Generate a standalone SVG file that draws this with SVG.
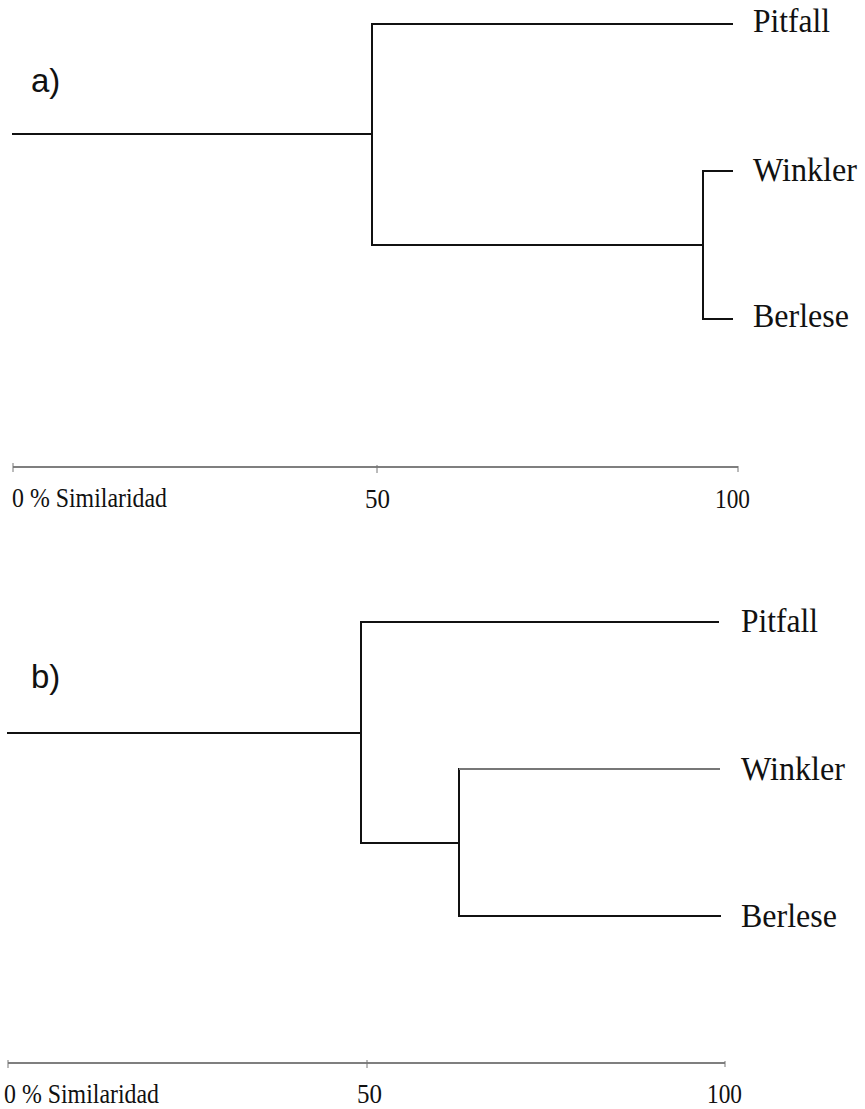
<svg xmlns="http://www.w3.org/2000/svg" width="865" height="1109" viewBox="0 0 865 1109">
  <style>
    .branch { fill: none; stroke: #111; stroke-width: 2; stroke-linecap: square; }
    .branch-light { fill: none; stroke: #777; stroke-width: 2; }
    .axis { fill: none; stroke: #555; stroke-width: 1.6; }
    .tick { fill: none; stroke: #777; stroke-width: 1; }
    .leaf { font-family: "Liberation Serif", "Times New Roman", serif; font-size: 33px; fill: #111; }
    .scale { font-family: "Liberation Serif", "Times New Roman", serif; font-size: 27px; fill: #111; }
    .panel { font-family: "Liberation Sans", Arial, sans-serif; font-size: 33px; fill: #111; }
  </style>
  <rect width="865" height="1109" fill="#fff"/>

  <!-- Dendrogram a -->
  <g id="panel-a">
    <text id="label-a" class="panel" x="31" y="92">a)</text>
    <g id="a-connectors">
      <path class="branch" d="M13 134 H372"/>
      <path class="branch" d="M372 24 V245"/>
      <path class="branch" d="M372 24 H732"/>
      <path class="branch" d="M372 245 H703"/>
      <path class="branch" d="M703 171 V319"/>
      <path class="branch" d="M703 171 H732"/>
      <path class="branch" d="M703 319 H732"/>
    </g>
    <g id="a-pitfall"><text class="leaf" x="753" y="32" textLength="77" lengthAdjust="spacingAndGlyphs">Pitfall</text></g>
    <g id="a-winkler"><text class="leaf" x="753" y="181" textLength="104" lengthAdjust="spacingAndGlyphs">Winkler</text></g>
    <g id="a-berlese"><text class="leaf" x="753" y="327" textLength="96" lengthAdjust="spacingAndGlyphs">Berlese</text></g>
    <g id="a-axis">
      <path class="axis" d="M13 467 H738"/>
      <path class="tick" d="M13 463 V472 M377 465 V473 M738 466 V472"/>
      <text class="scale" x="12" y="507" textLength="155" lengthAdjust="spacingAndGlyphs">0 % Similaridad</text>
      <text class="scale" x="365" y="508" textLength="25" lengthAdjust="spacingAndGlyphs">50</text>
      <text class="scale" x="715" y="508" textLength="35" lengthAdjust="spacingAndGlyphs">100</text>
    </g>
  </g>

  <!-- Dendrogram b -->
  <g id="panel-b">
    <text id="label-b" class="panel" x="31" y="688">b)</text>
    <g id="b-connectors">
      <path class="branch" d="M8 733 H361"/>
      <path class="branch" d="M361 622 V843"/>
      <path class="branch" d="M361 622 H718"/>
      <path class="branch" d="M361 843 H459"/>
      <path class="branch" d="M459 769 V916"/>
      <path class="branch-light" d="M459 769 H720"/>
      <path class="branch" d="M459 916 H720"/>
    </g>
    <g id="b-pitfall"><text class="leaf" x="741" y="632" textLength="77" lengthAdjust="spacingAndGlyphs">Pitfall</text></g>
    <g id="b-winkler"><text class="leaf" x="741" y="780" textLength="104" lengthAdjust="spacingAndGlyphs">Winkler</text></g>
    <g id="b-berlese"><text class="leaf" x="741" y="927" textLength="96" lengthAdjust="spacingAndGlyphs">Berlese</text></g>
    <g id="b-axis">
      <path class="axis" d="M8 1063 H725"/>
      <path class="tick" d="M8 1060 V1068 M367 1060 V1068 M725 1061 V1067"/>
      <text class="scale" x="4" y="1103" textLength="155" lengthAdjust="spacingAndGlyphs">0 % Similaridad</text>
      <text class="scale" x="357" y="1103" textLength="25" lengthAdjust="spacingAndGlyphs">50</text>
      <text class="scale" x="707" y="1103" textLength="35" lengthAdjust="spacingAndGlyphs">100</text>
    </g>
  </g>
</svg>
